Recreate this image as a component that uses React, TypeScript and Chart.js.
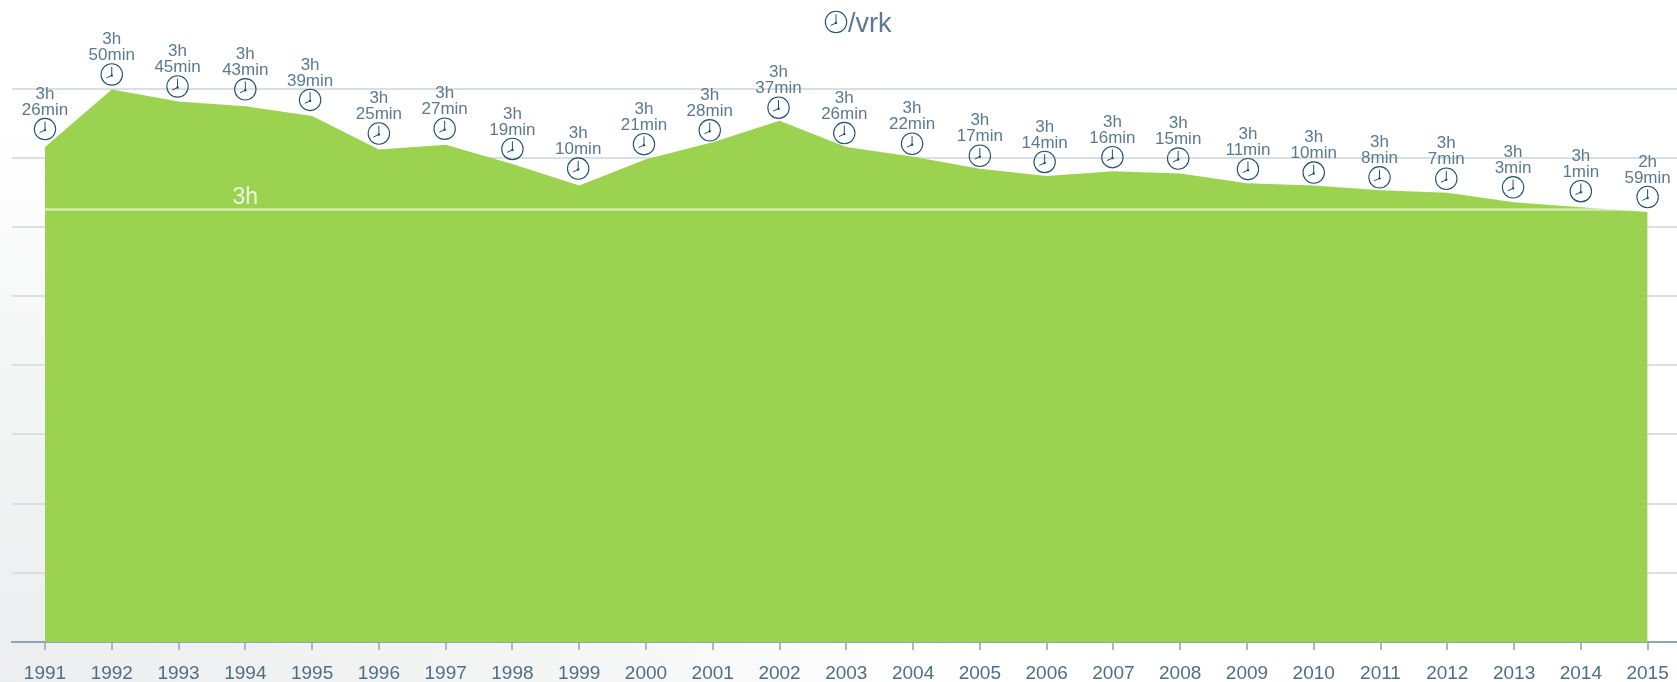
import React, { useEffect, useRef } from "react";
import { Chart, registerables } from "chart.js";

Chart.register(...registerables);

const years = ["1991","1992","1993","1994","1995","1996","1997","1998","1999","2000","2001","2002","2003","2004","2005","2006","2007","2008","2009","2010","2011","2012","2013","2014","2015"];
const minutesPerDay = [206,230,225,223,219,205,207,199,190,201,208,217,206,202,197,194,196,195,191,190,188,187,183,181,179];
const hourLabels = ["3h","3h","3h","3h","3h","3h","3h","3h","3h","3h","3h","3h","3h","3h","3h","3h","3h","3h","3h","3h","3h","3h","3h","3h","2h"];
const minuteLabels = ["26min","50min","45min","43min","39min","25min","27min","19min","10min","21min","28min","37min","26min","22min","17min","14min","16min","15min","11min","10min","8min","7min","3min","1min","59min"];
const referenceMinutes = 180;
const referenceLabel = "3h";
const titleText = "/vrk";
const gridTicks = [0, 28.8, 57.6, 86.4, 115.2, 144, 172.8, 201.6, 230.4];

// Hand-placement nudges of the clock icons, separate from the data.
const clockNudgeX = [0,0,-1,0,-2,0,-1,0,-1,-2,-3,-1,-2,-1,0,-2,-1,-2,1,0,-1,-1,-1,0,0];
const clockNudgeY = [-2,1,1,-1,0,0,0,1,-1,1,4,3,2,3,3,2,2,1,2,3,3,2,1,0,1];

const INK = "#5b7a8f";
const TICK_INK = "#4f6f85";
const CLOCK = "#1f5273";
const FONT = "'Liberation Sans', Arial, sans-serif";

function drawClock(ctx: CanvasRenderingContext2D, x: number, y: number, r: number) {
  ctx.save();
  ctx.strokeStyle = CLOCK;
  ctx.lineWidth = 1.1;
  ctx.beginPath();
  ctx.arc(x, y, r, 0, Math.PI * 2);
  ctx.stroke();
  ctx.lineWidth = 1;
  ctx.beginPath();
  ctx.moveTo(x, y + 1);
  ctx.lineTo(x, y - r * 0.72);
  ctx.moveTo(x, y + 1);
  ctx.lineTo(x - r * 0.5, y + r * 0.32);
  ctx.stroke();
  ctx.fillStyle = CLOCK;
  ctx.beginPath();
  ctx.arc(x, y + 1, 1.2, 0, Math.PI * 2);
  ctx.fill();
  ctx.restore();
}

const labelPlugin = {
  id: "clockLabels",
  afterDatasetsDraw(chart: any) {
    const { ctx, scales } = chart;
    const xs = scales.x;
    const ys = scales.y;
    ctx.save();
    ctx.textAlign = "center";
    ctx.textBaseline = "middle";
    years.forEach((_, i) => {
      const px = xs.getPixelForValue(i) + clockNudgeX[i];
      const py = ys.getPixelForValue(minutesPerDay[i]);
      const cy = py - 16 + clockNudgeY[i];
      drawClock(ctx, px, cy, 10.7);
      ctx.fillStyle = INK;
      ctx.font = `17px ${FONT}`;
      ctx.fillText(hourLabels[i], px, cy - 35);
      ctx.fillText(minuteLabels[i], px, cy - 19);
    });
    ctx.fillStyle = "rgba(255,255,255,0.85)";
    ctx.font = `23px ${FONT}`;
    ctx.fillText(referenceLabel, xs.getPixelForValue(3), ys.getPixelForValue(referenceMinutes) - 12);
    ctx.fillStyle = INK;
    ctx.font = `27px ${FONT}`;
    ctx.textAlign = "left";
    ctx.fillText(titleText, 848, 25);
    drawClock(ctx, 836, 22, 10.7);
    ctx.restore();
  },
};

export default function App() {
  const ref = useRef<HTMLCanvasElement>(null);
  useEffect(() => {
    const chart = new Chart(ref.current!, {
      type: "line",
      data: {
        labels: years,
        datasets: [
          {
            data: years.map(() => referenceMinutes),
            borderColor: "rgba(255,255,255,0.55)",
            borderWidth: 2.5,
            pointRadius: 0,
            fill: false,
            order: 0,
          },
          {
            data: minutesPerDay,
            borderWidth: 0,
            borderColor: "#9bd351",
            backgroundColor: "#9bd351",
            pointRadius: 0,
            tension: 0,
            fill: "origin",
            order: 1,
          },
        ],
      },
      options: {
        animation: false,
        responsive: false,
        events: [],
        layout: { padding: { left: 11.6, right: 0, top: 88.5, bottom: 0 } },
        plugins: { legend: { display: false }, title: { display: false }, tooltip: { enabled: false } },
        scales: {
          x: {
            type: "category",
            offset: true,
            afterFit: (axis: any) => {
              axis.height = 40;
            },
            border: { display: true, color: "#8fa5b3", width: 2 },
            grid: { display: true, drawOnChartArea: false, drawTicks: true, tickLength: 8, color: "#a9b8c2", lineWidth: 2, offset: false },
            ticks: { color: TICK_INK, font: { family: FONT, size: 19 }, padding: 12, maxRotation: 0, autoSkip: false },
          },
          y: {
            min: 0,
            max: 230.4,
            afterBuildTicks: (axis: any) => {
              axis.ticks = gridTicks.map((value) => ({ value }));
            },
            border: { display: false },
            grid: { color: "#d9e0e4", lineWidth: 2, drawTicks: false },
            ticks: { display: false },
          },
        },
      },
      plugins: [labelPlugin],
    } as any);
    return () => chart.destroy();
  }, []);
  return (
    <div
      style={{
        position: "absolute",
        left: 0,
        top: 0,
        width: 1677,
        height: 682,
        overflow: "hidden",
        background: "radial-gradient(ellipse 1000px 560px at 0% 100%, #ecedee 0%, #f3f4f4 50%, #ffffff 100%)",
      }}
    >
      <canvas ref={ref} width={1681} height={682} style={{ display: "block" }} />
    </div>
  );
}
